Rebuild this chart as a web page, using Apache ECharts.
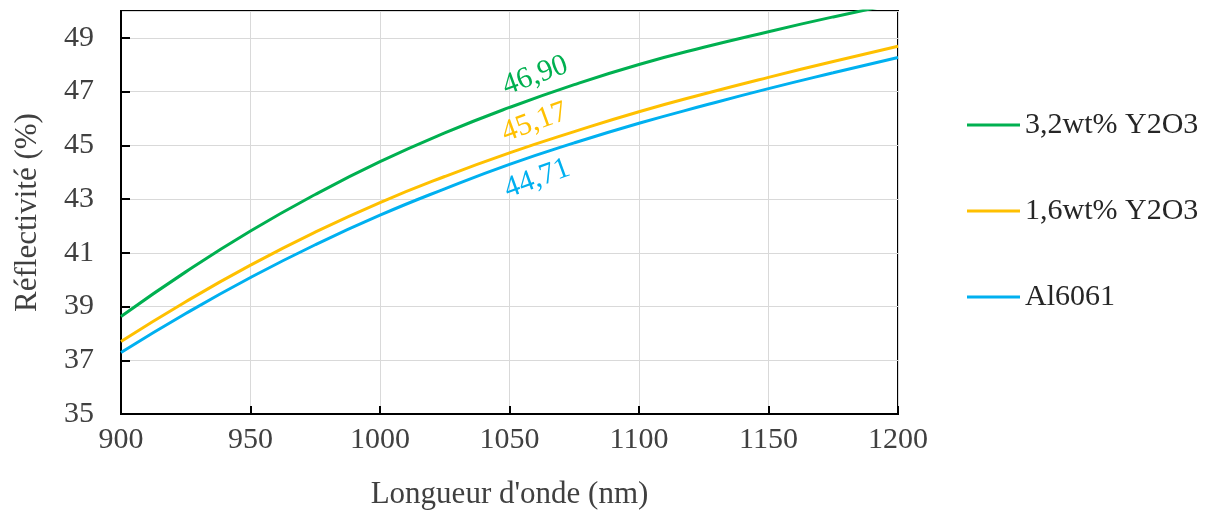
<!DOCTYPE html>
<html>
<head>
<meta charset="utf-8">
<script src="https://cdn.jsdelivr.net/npm/echarts@6/dist/echarts.min.js"></script>
<style>html,body{margin:0;padding:0;background:#fff}#c{width:1212px;height:515px}</style>
</head>
<body>
<div id="c"></div>
<script>
const wavelengths = [900, 925, 950, 975, 1000, 1025, 1050, 1075, 1100, 1125, 1150, 1175, 1200];
const y2o3_32 = [38.63, 40.29, 41.81, 43.17, 44.39, 45.46, 46.41, 47.26, 48.01, 48.65, 49.23, 49.78, 50.30];
const y2o3_16 = [37.70, 39.18, 40.54, 41.77, 42.87, 43.84, 44.72, 45.51, 46.25, 46.91, 47.53, 48.12, 48.69];
const al6061  = [37.29, 38.74, 40.08, 41.30, 42.40, 43.38, 44.29, 45.09, 45.82, 46.48, 47.11, 47.70, 48.27];
const seriesNames = ['3,2wt% Y2O3', '1,6wt% Y2O3', 'Al6061'];
const seriesColors = ['#00b050', '#ffc000', '#00b0f0'];
const annotTexts = ['46,90', '45,17', '44,71'];
const annotAt = 1050;

const FONT = '"Liberation Serif", "DejaVu Serif", serif';
const TXT = '#404040';
const annotOffsets = [[35, -21], [34, -20], [21, 23]];

function build(vals, idx) {
  return wavelengths.map((w, i) => {
    const item = { value: [w, vals[i]] };
    if (w === annotAt) {
      item.label = {
        show: true,
        formatter: annotTexts[idx],
        position: 'inside',
        align: 'center',
        verticalAlign: 'middle',
        rotate: 20,
        offset: annotOffsets[idx],
        color: seriesColors[idx],
        fontFamily: FONT,
        fontSize: 30
      };
    }
    return item;
  });
}

const chart = echarts.init(document.getElementById('c'), null, { renderer: 'canvas' });
const allVals = [y2o3_32, y2o3_16, al6061];
chart.setOption({
  animation: false,
  grid: { left: 121, right: 314, top: 11, bottom: 100, show: true, borderColor: '#000', borderWidth: 2, backgroundColor: 'transparent' },
  legend: {
    orient: 'vertical',
    left: 967,
    top: 110,
    padding: 0,
    icon: 'rect',
    itemWidth: 53,
    itemHeight: 3,
    itemGap: 56,
    textStyle: { fontFamily: FONT, fontSize: 30, color: '#262626' },
    data: seriesNames
  },
  xAxis: {
    type: 'value',
    min: 900, max: 1200, interval: 50,
    name: "Longueur d'onde (nm)",
    nameLocation: 'middle',
    nameGap: 65,
    nameTextStyle: { fontFamily: FONT, fontSize: 31, color: TXT },
    axisLine: { show: true, onZero: false, lineStyle: { color: '#000', width: 2 } },
    axisTick: { show: true, inside: true, length: 8, lineStyle: { color: '#000', width: 2 } },
    axisLabel: { fontFamily: FONT, fontSize: 30, color: TXT, margin: 11, formatter: v => String(v) },
    splitLine: { show: true, lineStyle: { color: '#d9d9d9', width: 1 } }
  },
  yAxis: {
    type: 'value',
    min: 35, max: 50, interval: 2,
    name: 'Réflectivité (%)',
    nameLocation: 'middle',
    nameGap: 78,
    nameTextStyle: { fontFamily: FONT, fontSize: 31, color: TXT },
    axisLine: { show: true, onZero: false, lineStyle: { color: '#000', width: 2 } },
    axisTick: { show: true, inside: true, length: 9, lineStyle: { color: '#000', width: 2 } },
    axisLabel: { fontFamily: FONT, fontSize: 30, color: TXT, margin: 27, showMaxLabel: false },
    splitLine: { show: true, lineStyle: { color: '#d9d9d9', width: 1 } }
  },
  series: allVals.map((vals, idx) => ({
    name: seriesNames[idx],
    type: 'line',
    smooth: true,
    symbol: 'circle',
    symbolSize: 0,
    showSymbol: true,
    clip: true,
    color: seriesColors[idx],
    lineStyle: { color: seriesColors[idx], width: 3 },
    itemStyle: { color: seriesColors[idx] },
    emphasis: { disabled: true },
    data: build(vals, idx)
  }))
});
</script>
</body>
</html>
